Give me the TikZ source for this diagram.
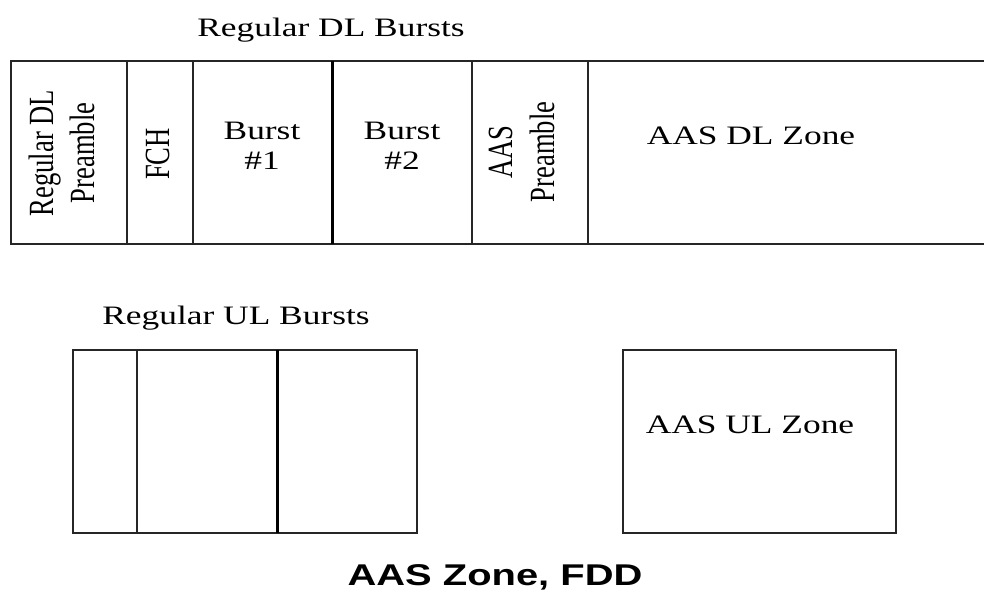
\documentclass[tikz,border=0pt]{standalone}
\usepackage{fontspec}
\setmainfont{Liberation Serif}
\newfontfamily\headfont{Liberation Sans}
\usetikzlibrary{positioning}

\begin{document}
\begin{tikzpicture}[x=0.75188pt, y=-1pt, xscale=1.33,
  every node/.append style={transform shape},
  frame/.style={line width=1.6pt, draw=black!85},
  heavy/.style={line width=3pt, draw=black},
  lbl/.style={font=\fontsize{26.6}{29.5}\selectfont, align=center, inner sep=0pt},
  vlbl/.style={lbl, font=\fontsize{26.6}{31}\selectfont, rotate=90}
]
  \useasboundingbox (0,0) rectangle (984,592);

  % downlink frame
  \draw[frame] (984,61) -- (11,61) -- (11,244) -- (984,244);
  \foreach \xx in {127,193,472,588}
    \draw[frame] (\xx,61) -- (\xx,244);
  \draw[heavy] (332,61) -- (332,244);

  \node[lbl] (dltitle) at (331,30) {Regular DL Bursts};
  \node[vlbl] (dlpre) at (62,153) {Regular DL\\Preamble};
  \node[vlbl] (fch) at (158,154) {FCH};
  \node[lbl] (burst1) at (262,146) {Burst\\\#1};
  \node[lbl] (burst2) at (402,146) {Burst\\\#2};
  \node[vlbl] (aaspre) at (522,152) {AAS\\Preamble};
  \node[lbl] (aasdl) at (751,136) {AAS DL Zone};

  % uplink bursts
  \draw[frame] (73,350) rectangle (417,533);
  \draw[frame] (137,350) -- (137,533);
  \draw[heavy] (277,350) -- (277,533);
  \node[lbl] (ultitle) at (236,318) {Regular UL Bursts};

  % AAS uplink zone
  \draw[frame] (623,350) rectangle (896,533);
  \node[lbl] (aasul) at (750,425) {AAS UL Zone};

  \node[font=\headfont\bfseries\fontsize{30}{31}\selectfont, inner sep=0pt] (zonetitle) at (495,577) {AAS Zone, FDD};
\end{tikzpicture}
\end{document}
